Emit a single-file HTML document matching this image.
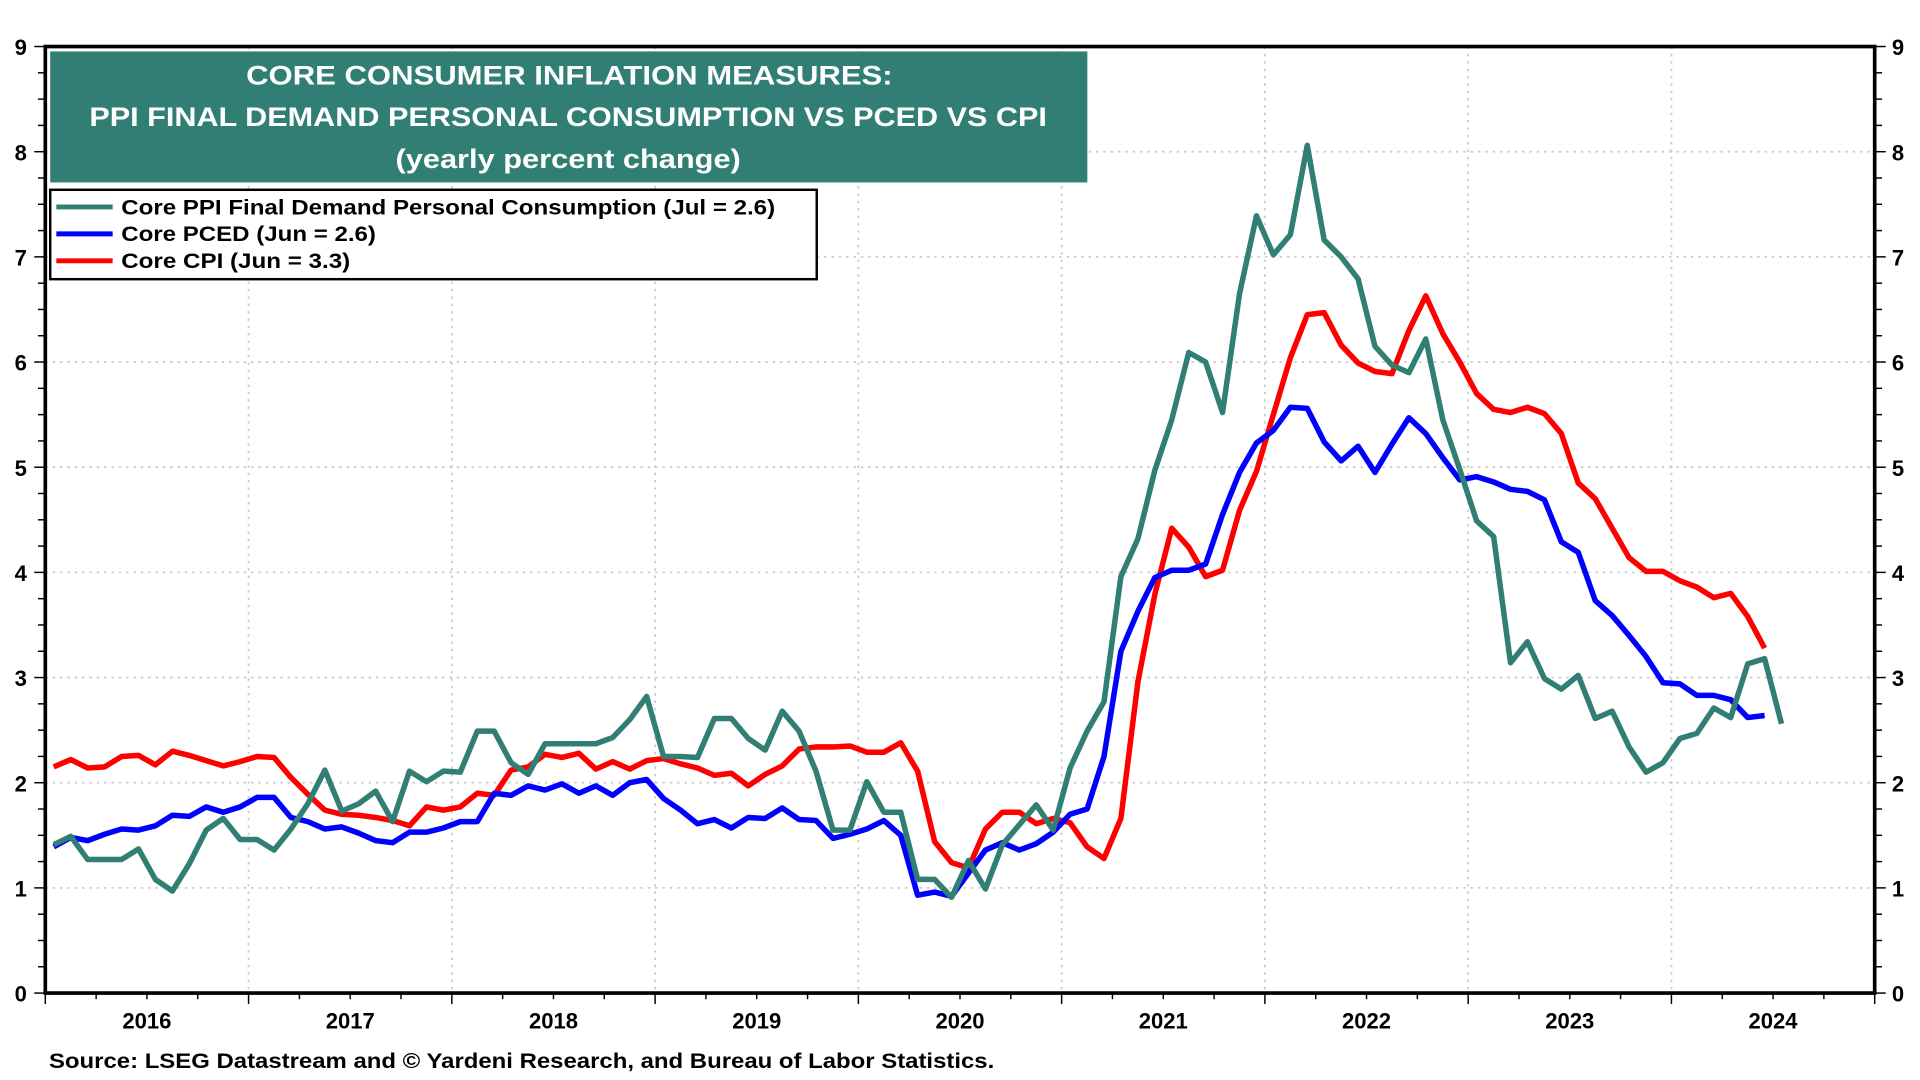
<!DOCTYPE html>
<html><head><meta charset="utf-8"><style>
html,body{margin:0;padding:0;background:#fff;width:1920px;height:1080px;overflow:hidden}
svg{display:block;font-family:"Liberation Sans",Arial,sans-serif;font-weight:bold}
</style></head><body>
<svg id="chart" width="1920" height="1080" viewBox="0 0 1568 882">
<g id="grid"></g>
<g id="axes"></g>
<g id="series"></g>
<g>
<rect x="41" y="42" width="847" height="107" fill="#317f74"/>
<text x="201" y="69" fill="#fff" font-size="22" textLength="528" lengthAdjust="spacingAndGlyphs">CORE CONSUMER  INFLATION MEASURES:</text>
<text x="73" y="103" fill="#fff" font-size="22" textLength="782" lengthAdjust="spacingAndGlyphs">PPI FINAL DEMAND PERSONAL CONSUMPTION VS PCED VS CPI</text>
<text x="323" y="137" fill="#fff" font-size="22" textLength="282" lengthAdjust="spacingAndGlyphs">(yearly percent change)</text>
</g>
<g>
<rect x="41" y="155" width="626" height="73" fill="#fff" stroke="#000" stroke-width="2"/>
<line x1="46" y1="169" x2="92" y2="169" stroke="#317f74" stroke-width="4"/>
<text x="99" y="175" font-size="17" textLength="534" lengthAdjust="spacingAndGlyphs">Core PPI Final Demand Personal Consumption (Jul = 2.6)</text>
<line x1="46" y1="191" x2="92" y2="191" stroke="#0000ff" stroke-width="4"/>
<text x="99" y="197" font-size="17" textLength="208" lengthAdjust="spacingAndGlyphs">Core PCED (Jun = 2.6)</text>
<line x1="46" y1="213" x2="92" y2="213" stroke="#ff0000" stroke-width="4"/>
<text x="99" y="219" font-size="17" textLength="187" lengthAdjust="spacingAndGlyphs">Core CPI (Jun = 3.3)</text>
</g>
<text x="40" y="872" font-size="17" textLength="772" lengthAdjust="spacingAndGlyphs">Source: LSEG Datastream and © Yardeni Research, and Bureau of Labor Statistics.</text>
</svg>
<script>
var yearLabels=["2016","2017","2018","2019","2020","2021","2022","2023","2024"];
var yTicks=[0,1,2,3,4,5,6,7,8,9];
var ppi=[1.41,1.49,1.27,1.27,1.27,1.37,1.08,0.97,1.23,1.55,1.66,1.46,1.46,1.36,1.56,1.8,2.12,1.73,1.8,1.92,1.63,2.11,2.01,2.11,2.1,2.49,2.49,2.19,2.08,2.37,2.37,2.37,2.37,2.43,2.6,2.82,2.25,2.25,2.24,2.61,2.61,2.42,2.31,2.68,2.49,2.11,1.55,1.55,2.01,1.72,1.72,1.08,1.08,0.91,1.26,0.99,1.41,1.6,1.79,1.55,2.14,2.49,2.77,3.96,4.32,4.97,5.45,6.09,6.0,5.52,6.65,7.39,7.02,7.21,8.06,7.16,7.0,6.79,6.15,5.97,5.9,6.22,5.45,4.98,4.49,4.34,3.14,3.34,2.99,2.89,3.02,2.61,2.68,2.34,2.1,2.19,2.42,2.47,2.71,2.62,3.13,3.18,2.56];
var pced=[1.39,1.48,1.45,1.51,1.56,1.55,1.59,1.69,1.68,1.77,1.72,1.77,1.86,1.86,1.67,1.63,1.56,1.58,1.52,1.45,1.43,1.53,1.53,1.57,1.63,1.63,1.9,1.88,1.97,1.93,1.99,1.9,1.97,1.88,2.0,2.03,1.85,1.74,1.61,1.65,1.57,1.67,1.66,1.76,1.65,1.64,1.47,1.51,1.56,1.64,1.5,0.93,0.96,0.92,1.14,1.36,1.43,1.36,1.42,1.53,1.7,1.75,2.25,3.25,3.63,3.95,4.02,4.02,4.08,4.55,4.95,5.23,5.35,5.57,5.56,5.24,5.06,5.2,4.95,5.22,5.47,5.32,5.09,4.88,4.91,4.86,4.79,4.77,4.69,4.29,4.19,3.73,3.59,3.4,3.2,2.95,2.94,2.83,2.83,2.79,2.62,2.64];
var cpi=[2.15,2.22,2.14,2.15,2.25,2.26,2.17,2.3,2.26,2.21,2.16,2.2,2.25,2.24,2.05,1.89,1.74,1.7,1.69,1.67,1.64,1.59,1.77,1.74,1.77,1.9,1.88,2.12,2.15,2.27,2.24,2.28,2.13,2.2,2.13,2.21,2.23,2.18,2.14,2.07,2.09,1.97,2.08,2.16,2.32,2.34,2.34,2.35,2.29,2.29,2.38,2.11,1.44,1.24,1.19,1.56,1.72,1.72,1.61,1.66,1.62,1.39,1.28,1.66,2.96,3.79,4.42,4.24,3.96,4.02,4.59,4.96,5.5,6.04,6.45,6.47,6.16,5.99,5.91,5.89,6.3,6.63,6.27,6.0,5.7,5.55,5.52,5.57,5.51,5.32,4.85,4.7,4.42,4.14,4.01,4.01,3.92,3.86,3.76,3.8,3.58,3.28];
var NS="http://www.w3.org/2000/svg";
var X0=37,X1=1531,Y0=811,Y1=38,YMAX=9,MONTHS=108;
function xs(i){return X0+(i+0.5)*(X1-X0)/MONTHS;}
function xm(m){return X0+m*(X1-X0)/MONTHS;}
function ys(v){return Y0-(v/YMAX)*(Y0-Y1);}
function mk(tag,attrs,parent){var e=document.createElementNS(NS,tag);for(var k in attrs)e.setAttribute(k,attrs[k]);parent.appendChild(e);return e;}
var grid=document.getElementById('grid'),axes=document.getElementById('axes'),ser=document.getElementById('series');
yTicks.forEach(function(t){
 if(t>0&&t<YMAX){var g=mk('line',{x1:X0,x2:X1,y1:ys(t),y2:ys(t),stroke:'#ccc','stroke-width':1.5,'stroke-dasharray':'2,4'},grid);
 
 }
 var l=mk('text',{x:22,y:ys(t)+7,'font-size':18,'text-anchor':'end'},axes);l.textContent=t;
 
 
 var r=mk('text',{x:1545,y:ys(t)+7,'font-size':18,'text-anchor':'start'},axes);r.textContent=t;
 
 
});
for(var v=0;v<=YMAX;v+=0.25){
 var len=(v%1===0)?9:6;
 mk('line',{x1:X0-len,x2:X0,y1:ys(v),y2:ys(v),stroke:'#000','stroke-width':1.2},axes);
 mk('line',{x1:X1,x2:X1+len,y1:ys(v),y2:ys(v),stroke:'#000','stroke-width':1.2},axes);
}
yearLabels.forEach(function(y,i){
 if(i>0){var g=mk('line',{x1:xm(i*12),x2:xm(i*12),y1:Y1,y2:Y0,stroke:'#ccc','stroke-width':1.5,'stroke-dasharray':'2,4'},grid);
 
 }
 var t=mk('text',{x:xm(i*12+6),y:840,'font-size':18,'text-anchor':'middle'},axes);t.textContent=y;
 
 
});
for(var m=0;m<=MONTHS;m+=3){mk('line',{x1:xm(m),x2:xm(m),y1:Y0,y2:Y0+(m%12===0?9:5),stroke:'#000','stroke-width':1.2},axes);}
var frame=mk('rect',{x:X0,y:Y1,width:X1-X0,height:Y0-Y1,fill:'none',stroke:'#000','stroke-width':3},axes);


function line(data,color,name){
 var p=mk('polyline',{points:data.map(function(v,i){return xs(i).toFixed(1)+','+ys(v).toFixed(1);}).join(' '),fill:'none',stroke:color,'stroke-width':4.5,'stroke-linejoin':'round'},ser);
 
 
}
line(cpi,'#ff0000','core-cpi-line');
line(pced,'#0000ff','core-pced-line');
line(ppi,'#317f74','core-ppi-line');
</script>
</body></html>
